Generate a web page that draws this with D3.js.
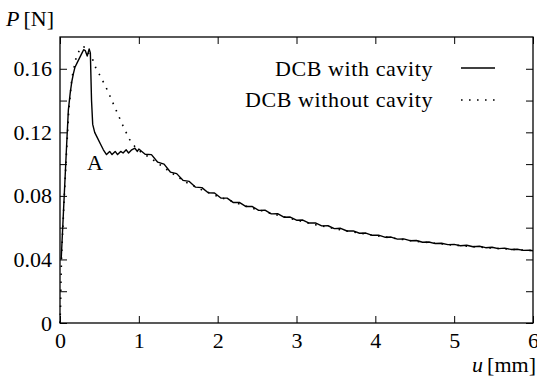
<!DOCTYPE html>
<html><head><meta charset="utf-8">
<script src="https://cdn.jsdelivr.net/npm/d3@7/dist/d3.min.js"></script>
<style>body{margin:0;background:#fff;}</style>
</head>
<body><svg id="c" width="537" height="382" font-family="Liberation Serif" font-size="22"></svg>
<script>
// Data: [u (mm), P (N)]
const withCavity = [
[0.015,0.040],[0.04,0.066],[0.063,0.090],[0.085,0.113],[0.106,0.134],[0.13,0.145],[0.15,0.152],[0.17,0.157],
[0.19,0.161],[0.22,0.164],[0.25,0.167],[0.28,0.170],[0.30,0.172],[0.32,0.1715],[0.345,0.168],[0.37,0.1725],
[0.385,0.170],[0.40,0.140],[0.415,0.125],[0.44,0.120],[0.47,0.117],[0.51,0.113],[0.55,0.109],[0.59,0.106],
[0.63,0.108],[0.66,0.106],[0.70,0.108],[0.73,0.106],[0.77,0.108],[0.80,0.107],[0.84,0.109],[0.87,0.107],
[0.91,0.109],[0.95,0.110],[0.98,0.108],
[1.00,0.1095],[1.08,0.1062],[1.16,0.1060],[1.24,0.1012],[1.32,0.1000],[1.40,0.0950],[1.48,0.0940],[1.56,0.0898],
[1.64,0.0891],[1.72,0.0855],[1.80,0.0852],[1.88,0.0820],[1.96,0.0818],[2.04,0.0787],[2.12,0.0786],[2.20,0.0758],
[2.28,0.0758],[2.36,0.0733],[2.44,0.0733],[2.52,0.0709],[2.60,0.0710],[2.68,0.0687],[2.76,0.0688],[2.84,0.0666],
[2.92,0.0667],[3.00,0.0647],[3.08,0.0648],[3.16,0.0629],[3.24,0.0630],[3.32,0.0611],[3.40,0.0612],[3.48,0.0594],
[3.56,0.0596],[3.64,0.0579],[3.72,0.0580],[3.80,0.0565],[3.88,0.0566],[3.96,0.0552],[4.04,0.0553],[4.12,0.0540],
[4.20,0.0541],[4.28,0.0528],[4.36,0.0529],[4.44,0.0518],[4.52,0.0519],[4.60,0.0508],[4.68,0.0510],[4.76,0.0500],
[4.84,0.0502],[4.92,0.0493],[5.00,0.0495],[5.08,0.0486],[5.16,0.0489],[5.24,0.0480],[5.32,0.0483],[5.40,0.0474],
[5.48,0.0477],[5.56,0.0468],[5.64,0.0471],[5.72,0.0463],[5.80,0.0464],[5.88,0.0457],[5.96,0.0458],[6.00,0.0455]
];
const withoutCavity = [
[0.0,0.0],[0.008,0.012],[0.013,0.028],[0.02,0.042],[0.05,0.075],[0.08,0.105],[0.11,0.133],[0.15,0.154],
[0.20,0.166],[0.24,0.171],[0.28,0.174],[0.32,0.1735],[0.36,0.170],[0.41,0.1665],[0.45,0.161],[0.51,0.1555],
[0.58,0.1488],[0.65,0.141],[0.72,0.133],[0.80,0.124],[0.88,0.1157],[0.95,0.111],[1.0,0.1085],[1.2,0.1020],
[1.4,0.0950],[1.6,0.0885],[1.8,0.0838],[2.0,0.0797],[2.4,0.0728],[2.8,0.0673],[3.2,0.0623],[3.6,0.0582],
[4.0,0.0550],[4.5,0.0515],[5.0,0.0490],[5.5,0.0471],[6.0,0.0455]
];
const seriesNames = ["DCB with cavity","DCB without cavity"];
const xTicks = [0,1,2,3,4,5,6];
const yTicks = [0,0.02,0.04,0.06,0.08,0.10,0.12,0.14,0.16];
const yLabelTicks = [0,0.04,0.08,0.12,0.16];

const FONT = "Liberation Serif";
const FS = 22;
const svg = d3.select("#c");
const L=60,R=533,T=37,B=323;
const x = d3.scaleLinear().domain([0,6]).range([L,R]);
const y = d3.scaleLinear().domain([0,0.18]).range([B,T]);

function styleAxis(g){
  g.attr("font-family",FONT).attr("font-size",FS);
  g.select(".domain").remove();
  g.selectAll(".tick line").attr("stroke","#000").attr("stroke-width",1);
  g.selectAll("text").attr("font-family",FONT).attr("font-size",FS).attr("fill","#000");
}
const fmtY = d => d===0 ? "0" : d3.format(".2f")(d);
svg.append("g").attr("transform",`translate(0,${B})`)
  .call(d3.axisBottom(x).tickValues(xTicks).tickSizeInner(-7).tickSizeOuter(0).tickPadding(9).tickFormat(d3.format("d")))
  .call(styleAxis);
svg.append("g").attr("transform",`translate(0,${T})`)
  .call(d3.axisTop(x).tickValues(xTicks).tickSizeInner(-7).tickSizeOuter(0).tickFormat(""))
  .call(styleAxis);
svg.append("g").attr("transform",`translate(${L},0)`)
  .call(d3.axisLeft(y).tickValues(yTicks).tickSizeInner(-7).tickSizeOuter(0).tickPadding(8)
    .tickFormat(d => yLabelTicks.some(v=>Math.abs(v-d)<1e-9) ? fmtY(d) : ""))
  .call(styleAxis);
svg.append("g").attr("transform",`translate(${R},0)`)
  .call(d3.axisRight(y).tickValues(yTicks).tickSizeInner(-7).tickSizeOuter(0).tickFormat(""))
  .call(styleAxis);

svg.append("rect").attr("x",L).attr("y",T).attr("width",R-L).attr("height",B-T)
  .attr("fill","none").attr("stroke","#000").attr("stroke-width",1.3);

const line = d3.line().x(d=>x(d[0])).y(d=>y(d[1]));
svg.append("path").datum(withoutCavity).attr("d",line).attr("fill","none")
  .attr("stroke","#000").attr("stroke-width",1.6).attr("stroke-dasharray","1.6 6.4");
svg.append("path").datum(withCavity).attr("d",line).attr("fill","none")
  .attr("stroke","#000").attr("stroke-width",1.4).attr("stroke-linejoin","round");

// Legend
const lg = svg.append("g").attr("font-family",FONT).attr("font-size",FS);
[[76,68,null],[107,100,"1.6 6.4"]].forEach((r,i)=>{
  lg.append("text").attr("x",433).attr("y",r[0]).attr("text-anchor","end")
    .attr("font-family",FONT).attr("font-size",FS).attr("letter-spacing","0.6").text(seriesNames[i]);
  lg.append("line").attr("x1",461).attr("x2",495).attr("y1",r[1]).attr("y2",r[1])
    .attr("stroke","#000").attr("stroke-width",i===0?1.4:1.6)
    .attr("stroke-dasharray",r[2]);
});

// Axis titles and annotation
const pt = svg.append("text").attr("x",6).attr("y",26).attr("font-family",FONT).attr("font-size",FS);
pt.append("tspan").attr("font-style","italic").text("P");
pt.append("tspan").attr("dx",4).text("[N]");
const ut = svg.append("text").attr("x",536).attr("y",372).attr("text-anchor","end").attr("font-family",FONT).attr("font-size",FS);
ut.append("tspan").attr("font-style","italic").text("u");
ut.append("tspan").attr("dx",4).text("[mm]");
svg.append("text").attr("x",87).attr("y",170).attr("font-family",FONT).attr("font-size",FS).text("A");
</script></body></html>
